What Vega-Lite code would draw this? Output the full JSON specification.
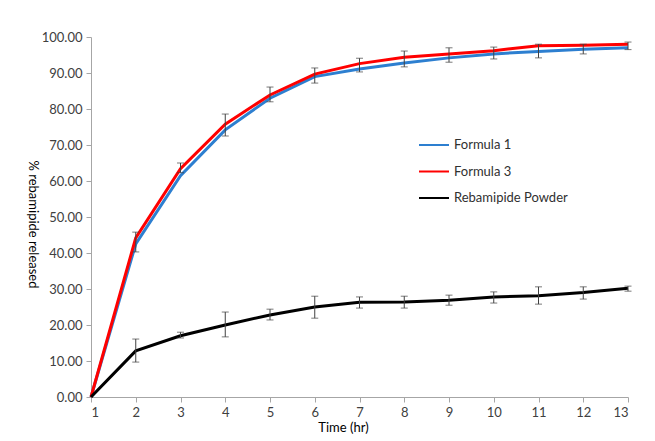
{
  "$schema": "https://vega.github.io/schema/vega-lite/v6.json",
  "autosize": "none",
  "width": 537,
  "height": 360,
  "padding": {"left": 91, "top": 37, "right": 27, "bottom": 44},
  "background": "white",
  "config": {
    "view": {"stroke": null},
    "font": "Lato",
    "axis": {"grid": false, "domainColor": "#a6a6a6", "tickColor": "#a6a6a6", "labelColor": "#404040", "labelFont": "Lato", "labelFontSize": 13, "labelOverlap": false, "titleFont": "Lato", "titleFontWeight": "normal", "titleColor": "#000000", "titleFontSize": 13}
  },
  "data": {"values": [
    {"time": 1, "series": "Formula 1", "value": 0, "lo": 0, "hi": 0},
    {"time": 2, "series": "Formula 1", "value": 42.5, "lo": 40.3, "hi": 45.8},
    {"time": 3, "series": "Formula 1", "value": 61.5, "lo": 62.3, "hi": 65.0},
    {"time": 4, "series": "Formula 1", "value": 74.2, "lo": 72.5, "hi": 78.6},
    {"time": 5, "series": "Formula 1", "value": 83.0, "lo": 82.0, "hi": 86.1},
    {"time": 6, "series": "Formula 1", "value": 89.0, "lo": 87.2, "hi": 91.4},
    {"time": 7, "series": "Formula 1", "value": 91.1, "lo": 90.3, "hi": 94.1},
    {"time": 8, "series": "Formula 1", "value": 92.8, "lo": 91.7, "hi": 96.1},
    {"time": 9, "series": "Formula 1", "value": 94.2, "lo": 93.0, "hi": 97.0},
    {"time": 10, "series": "Formula 1", "value": 95.3, "lo": 93.9, "hi": 97.2},
    {"time": 11, "series": "Formula 1", "value": 96.0, "lo": 94.2, "hi": 98.0},
    {"time": 12, "series": "Formula 1", "value": 96.6, "lo": 95.3, "hi": 98.0},
    {"time": 13, "series": "Formula 1", "value": 97.0, "lo": 96.5, "hi": 98.6},
    {"time": 1, "series": "Formula 3", "value": 0},
    {"time": 2, "series": "Formula 3", "value": 44.2},
    {"time": 3, "series": "Formula 3", "value": 63.4},
    {"time": 4, "series": "Formula 3", "value": 75.8},
    {"time": 5, "series": "Formula 3", "value": 83.9},
    {"time": 6, "series": "Formula 3", "value": 89.7},
    {"time": 7, "series": "Formula 3", "value": 92.6},
    {"time": 8, "series": "Formula 3", "value": 94.4},
    {"time": 9, "series": "Formula 3", "value": 95.3},
    {"time": 10, "series": "Formula 3", "value": 96.2},
    {"time": 11, "series": "Formula 3", "value": 97.6},
    {"time": 12, "series": "Formula 3", "value": 97.7},
    {"time": 13, "series": "Formula 3", "value": 98.0},
    {"time": 1, "series": "Rebamipide Powder", "value": 0, "lo": 0, "hi": 0},
    {"time": 2, "series": "Rebamipide Powder", "value": 12.8, "lo": 9.7, "hi": 16.1},
    {"time": 3, "series": "Rebamipide Powder", "value": 17.0, "lo": 16.4, "hi": 18.0},
    {"time": 4, "series": "Rebamipide Powder", "value": 20.0, "lo": 16.7, "hi": 23.6},
    {"time": 5, "series": "Rebamipide Powder", "value": 22.8, "lo": 21.4, "hi": 24.4},
    {"time": 6, "series": "Rebamipide Powder", "value": 25.0, "lo": 21.9, "hi": 28.0},
    {"time": 7, "series": "Rebamipide Powder", "value": 26.3, "lo": 24.7, "hi": 27.8},
    {"time": 8, "series": "Rebamipide Powder", "value": 26.4, "lo": 24.7, "hi": 28.0},
    {"time": 9, "series": "Rebamipide Powder", "value": 26.9, "lo": 25.5, "hi": 28.3},
    {"time": 10, "series": "Rebamipide Powder", "value": 27.8, "lo": 26.1, "hi": 29.2},
    {"time": 11, "series": "Rebamipide Powder", "value": 28.1, "lo": 25.8, "hi": 30.6},
    {"time": 12, "series": "Rebamipide Powder", "value": 29.0, "lo": 27.2, "hi": 30.6},
    {"time": 13, "series": "Rebamipide Powder", "value": 30.2, "lo": 29.4, "hi": 30.8}
  ]},
  "layer": [
    {
      "mark": {"type": "line", "strokeWidth": 3},
      "encoding": {
        "x": {"field": "time", "type": "quantitative", "scale": {"domain": [1, 13], "nice": false},
              "axis": {"values": [1,2,3,4,5,6,7,8,9,10,11,12,13], "title": "Time (hr)", "tickSize": 5, "labelPadding": 4, "titlePadding": 2, "titleX": 252, "labelOverlap": false}},
        "y": {"field": "value", "type": "quantitative", "scale": {"domain": [0, 100], "nice": false},
              "axis": {"values": [0,10,20,30,40,50,60,70,80,90,100], "format": ".2f", "title": "% rebamipide released", "titleAngle": 90, "titleY": 187, "tickSize": 5, "labelPadding": 4, "titlePadding": 16, "labelOverlap": false}},
        "color": {"field": "series", "type": "nominal",
                  "scale": {"domain": ["Formula 1", "Formula 3", "Rebamipide Powder"], "range": ["#2d7fd0", "#ff0000", "#000000"]},
                  "legend": {"title": null, "orient": "none", "legendX": 327, "legendY": 92, "symbolType": "stroke", "symbolSize": 900, "symbolStrokeWidth": 2, "labelFontSize": 13, "labelColor": "#303030", "labelFont": "Lato", "rowPadding": 3.5, "labelOffset": 4}}
      }
    },
    {
      "transform": [{"filter": "datum.hi > 0"}],
      "mark": {"type": "errorbar", "ticks": {"size": 7}, "color": "#404040", "thickness": 1},
      "encoding": {
        "x": {"field": "time", "type": "quantitative",
              "axis": {"values": [1,2,3,4,5,6,7,8,9,10,11,12,13], "title": "Time (hr)", "tickSize": 5, "labelPadding": 4, "titlePadding": 2, "titleX": 252, "labelOverlap": false}},
        "y": {"field": "lo", "type": "quantitative",
              "axis": {"values": [0,10,20,30,40,50,60,70,80,90,100], "format": ".2f", "title": "% rebamipide released", "titleAngle": 90, "titleY": 187, "tickSize": 5, "labelPadding": 4, "titlePadding": 16, "labelOverlap": false}},
        "y2": {"field": "hi"}
      }
    }
  ]
}
